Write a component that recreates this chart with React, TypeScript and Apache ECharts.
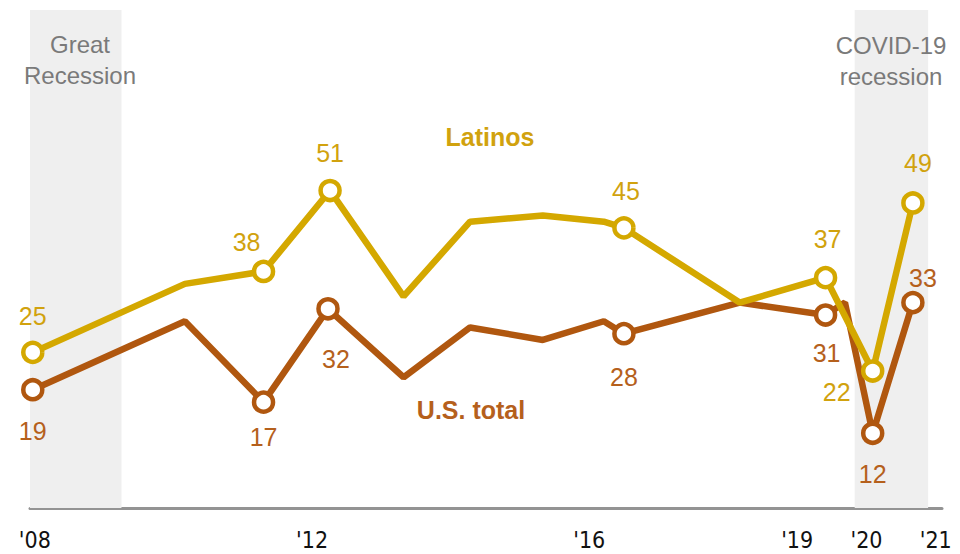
import React, { useEffect, useRef } from "react";
import * as echarts from "echarts";

// Survey dates (decimal years) and values
const latinoDates = [2007.97, 2010.165, 2011.3, 2012.26, 2013.32, 2014.28, 2015.33, 2016.21, 2016.5, 2018.17, 2019.41, 2020.09, 2020.67];
const latinoValues = [25, 36, 38, 51, 34, 46, 47, 46, 45, 33, 37, 22, 49];
const latinoMarked = [true, false, true, true, false, false, false, false, true, false, true, true, true];

const usDates = [2007.97, 2010.165, 2011.3, 2012.23, 2013.32, 2014.28, 2015.33, 2016.21, 2016.5, 2018.17, 2019.41, 2019.69, 2020.09, 2020.67];
const usValues = [19, 30, 17, 32, 21, 29, 27, 30, 28, 33, 31, 33, 12, 33];
const usMarked = [true, false, true, true, false, false, false, false, true, false, true, false, true, true];

const tickYears = [2008, 2012, 2016, 2019, 2020, 2021];
const recessions = [
  { name: "Great\nRecession", from: 2007.93, to: 2009.25 },
  { name: "COVID-19\nrecession", from: 2019.83, to: 2020.89 },
];

// label offsets (layout only) for marked points, in order of marked points
const latinoLabelOffsets = [[0, -36], [-17, -29], [0, -38], [2, -37], [2, -39], [-36, 21], [5, -40]];
const usLabelOffsets = [[0, 41], [0, 35], [8, 50], [0, 43], [1, 38], [0, 41], [10, -25]];

const LATINO = "#D4A800";
const US = "#B0570F";
const LATINO_TXT = "#D1A20E";
const US_TXT = "#B5601C";

function buildData(dates: number[], values: number[], marked: boolean[], offsets: number[][], color: string, txt: string) {
  let k = 0;
  return dates.map((d, i) => {
    if (!marked[i]) {
      return { value: [d, values[i]], symbol: "none", label: { show: false } };
    }
    const off = offsets[k++] || [0, 0];
    return {
      value: [d, values[i]],
      symbol: "circle",
      symbolSize: 19,
      itemStyle: { color: "#fff", borderColor: color, borderWidth: 4.5 },
      label: {
        show: true,
        position: "inside",
        offset: off,
        formatter: String(values[i]),
        color: txt,
        fontSize: 25,
        fontFamily: "Liberation Sans, Arial, sans-serif",
      },
    };
  });
}

export default function App() {
  const ref = useRef<HTMLDivElement>(null);
  useEffect(() => {
    if (!ref.current) return;
    const chart = echarts.init(ref.current, null, { renderer: "svg" });
    const textStyle = (text: string, fill: string, bold: boolean) => ({
      text,
      fill,
      fontSize: bold ? 25 : 24,
      fontWeight: bold ? "bold" : "normal",
      lineHeight: 31,
      align: "center",
      verticalAlign: "middle",
      fontFamily: "Liberation Sans, Arial, sans-serif",
    });
    chart.setOption({
      animation: false,
      grid: { left: 30, right: 18, top: 10, bottom: 46 },
      xAxis: {
        type: "value",
        min: 2007.93,
        max: 2021.09,
        splitLine: { show: false },
        axisTick: { show: false },
        axisLine: { show: true, lineStyle: { color: "#939393", width: 3 } },
        axisLabel: {
          customValues: tickYears,
          formatter: (v: number) => "'" + String(Math.round(v)).slice(2),
          color: "#111",
          fontSize: 23,
          lineHeight: 24,
          margin: 20,
          fontFamily: "Liberation Sans Narrow, DejaVu Sans Condensed, Liberation Sans, sans-serif",
        },
      },
      yAxis: { type: "value", min: 0, max: 80, show: false },
      series: [
        {
          type: "line",
          name: "Latinos",
          data: buildData(latinoDates, latinoValues, latinoMarked, latinoLabelOffsets, LATINO, LATINO_TXT),
          lineStyle: { color: LATINO, width: 6.5 },
          itemStyle: { color: LATINO },
          z: 3,
          markArea: {
            silent: true,
            itemStyle: { color: "#efefef" },
            data: recessions.map((r) => [{ xAxis: r.from }, { xAxis: r.to }]),
          },
        },
        {
          type: "line",
          name: "U.S. total",
          data: buildData(usDates, usValues, usMarked, usLabelOffsets, US, US_TXT),
          lineStyle: { color: US, width: 6.5 },
          itemStyle: { color: US },
          z: 2,
        },
      ],
      graphic: {
        elements: [
          { type: "text", x: 80, y: 60, z: 100, style: textStyle(recessions[0].name, "#7a7a7a", false) },
          { type: "text", x: 891, y: 61, z: 100, style: textStyle(recessions[1].name, "#7a7a7a", false) },
          { type: "text", x: 490, y: 137, z: 100, style: textStyle("Latinos", LATINO_TXT, true) },
          { type: "text", x: 471, y: 410, z: 100, style: textStyle("U.S. total", US_TXT, true) },
        ],
      },
    });
    return () => chart.dispose();
  }, []);
  return (
    <div
      ref={ref}
      style={{ position: "absolute", left: 0, top: 0, width: 960, height: 554, background: "#fff" }}
    />
  );
}
